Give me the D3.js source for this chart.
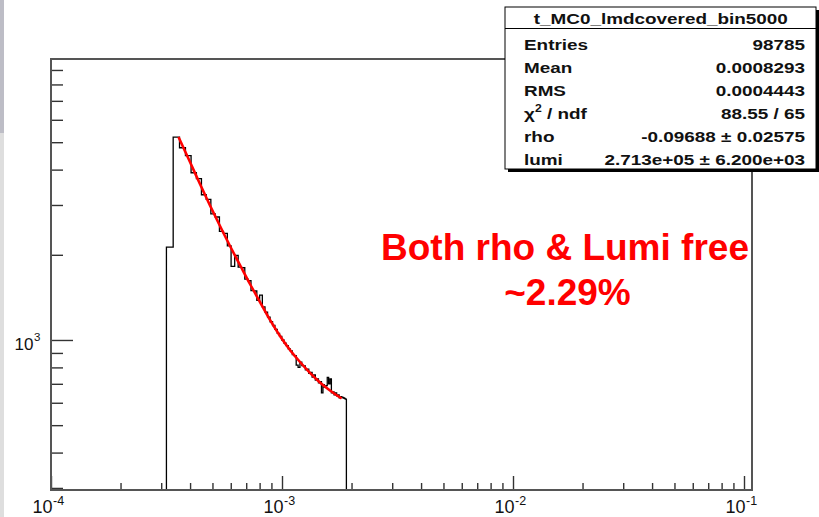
<!DOCTYPE html>
<html><head><meta charset="utf-8">
<script src="https://cdn.jsdelivr.net/npm/d3@7"></script>
<style>
body{margin:0;background:#fff}
svg{display:block}
text{font-family:"Liberation Sans",Arial,Helvetica,sans-serif}
</style>
</head><body>
<svg id="c" width="819" height="517"></svg>
<script>
// ---- data ----
const histStart = 3.16e-4;      // lower edge of first filled bin
const histBinWidth = 2.2e-5;    // bin width
const histCounts = [2130, 5210, 4780, 4480, 3900, 3720, 3260, 3140, 2790, 2720,
  2420, 2380, 2150, 1820, 1990, 1810, 1800, 1640, 1620, 1495,
  1490, 1380, 1440, 1310, 1255, 1205, 1160, 1125, 1090, 1055,
  1030, 1000, 975, 955, 930, 915, 888, 880, 815, 800,
  835, 812, 810, 785, 788, 762, 768, 740, 752, 722,
  728, 705, 712, 650, 695, 680, 690, 738, 700, 728,
  650, 655, 640, 650, 635, 640, 625, 630, 628, 625,
  622, 618];
const fitX = [3.564e-4, 3.997e-4, 4.415e-4, 4.879e-4, 5.390e-4, 5.956e-4, 6.579e-4, 7.268e-4, 8.031e-4,
  8.873e-4, 9.802e-4, 1.083e-3, 1.197e-3, 1.322e-3, 1.460e-3, 1.614e-3, 1.813e-3];
const fitY = [5217, 4256, 3558, 2988, 2528, 2149, 1841, 1577, 1362, 1177, 1033, 922, 836, 765, 708, 663, 621];
const xMajorExps = [-4, -3, -2, -1];
const yMajorVals = [1000];
const yMajorLabels = [["10", "3"]];
const statsTitle = "t_MC0_lmdcovered_bin5000";
const statsLabels = ["Entries", "Mean", "RMS", "chi2", "rho", "lumi"];
const statsValues = ["98785", "0.0008293", "0.0004443", "88.55 / 65", "-0.09688 \u00b1 0.02575", "2.713e+05 \u00b1 6.200e+03"];
const noteLines = ["Both rho & Lumi free", "~2.29%"];

// ---- chart ----
const svg = d3.select("#c");
const W = 819, H = 517;
const L = 51, R = 752, T = 59, B = 490;

svg.append("rect").attr("x", 0).attr("y", 0).attr("width", W).attr("height", H).attr("fill", "#fff");
// slide edge strip
svg.append("rect").attr("x", 0).attr("y", 0).attr("width", 4).attr("height", 133).attr("fill", "#bdbdc6");
svg.append("rect").attr("x", 0).attr("y", 133).attr("width", 4).attr("height", H - 133).attr("fill", "#dedede");

const x = d3.scaleLog().domain([1e-4, 0.1083]).range([L, R]);
const y = d3.scaleLog().domain([295, 9840]).range([B, T]);

const xMinor = [], xMajor = xMajorExps.map(e => Math.pow(10, e));
for (let e = -4; e <= -1; e++) for (let m = 2; m <= 9; m++) {
  const v = m * Math.pow(10, e);
  if (v <= x.domain()[1]) xMinor.push(v);
}
const yMinor = [];
for (let e = 2; e <= 3; e++) for (let m = 2; m <= 9; m++) {
  const v = m * Math.pow(10, e);
  if (v >= y.domain()[0] && v <= y.domain()[1]) yMinor.push(v);
}

const tickColor = "#333";
const gx1 = svg.append("g").attr("transform", `translate(0,${B})`)
  .call(d3.axisBottom(x).tickValues(xMinor).tickSize(-7).tickFormat(""));
const gx2 = svg.append("g").attr("transform", `translate(0,${B})`)
  .call(d3.axisBottom(x).tickValues(xMajor).tickSize(-14).tickFormat(""));
const gy1 = svg.append("g").attr("transform", `translate(${L},0)`)
  .call(d3.axisLeft(y).tickValues(yMinor).tickSize(-12).tickFormat(""));
const gy2 = svg.append("g").attr("transform", `translate(${L},0)`)
  .call(d3.axisLeft(y).tickValues(yMajorVals).tickSize(-22).tickFormat(""));
[gx1, gx2, gy1, gy2].forEach(g => {
  g.select(".domain").remove();
  g.selectAll("line").attr("stroke", tickColor).attr("stroke-width", 1.4);
});

// x labels
xMajor.forEach((v, i) => {
  const px = x(v);
  svg.append("text").attr("x", px + 1.5).attr("y", 512.5).attr("text-anchor", "end")
    .attr("font-size", 18).attr("fill", "#111").text("10");
  svg.append("text").attr("x", px + 2).attr("y", 504.5).attr("text-anchor", "start")
    .attr("font-size", 12.5).attr("fill", "#111").text(String(xMajorExps[i]));
});
// y labels
yMajorVals.forEach((v, i) => {
  const py = y(v);
  svg.append("text").attr("x", 33.5).attr("y", py + 10).attr("text-anchor", "end")
    .attr("font-size", 17).attr("fill", "#111").text(yMajorLabels[i][0]);
  svg.append("text").attr("x", 34).attr("y", py + 1.5).attr("text-anchor", "start")
    .attr("font-size", 11.5).attr("fill", "#111").text(yMajorLabels[i][1]);
});

// histogram outline
const edges = histCounts.map((_, i) => histStart + i * histBinWidth);
edges.push(histStart + histCounts.length * histBinWidth);
const pts = [[x(edges[0]), B]];
histCounts.forEach((c, i) => {
  pts.push([x(edges[i]), y(c)]);
  pts.push([x(edges[i + 1]), y(c)]);
});
pts.push([x(edges[edges.length - 1]), B]);
svg.append("path").attr("d", d3.line()(pts)).attr("fill", "none")
  .attr("stroke", "#000").attr("stroke-width", 1.3);

// fit curve
svg.append("path")
  .attr("d", d3.line().x(d => x(d[0])).y(d => y(d[1])).curve(d3.curveMonotoneX)(fitX.map((v, i) => [v, fitY[i]])))
  .attr("fill", "none").attr("stroke", "#ff0000").attr("stroke-width", 2.6);

// frame
svg.append("rect").attr("x", L).attr("y", T).attr("width", R - L).attr("height", B - T)
  .attr("fill", "none").attr("stroke", "#555").attr("stroke-width", 2);

// stats box
const bx = 505, by = 7, bw = 311, bh = 162;
svg.append("rect").attr("x", bx + 3).attr("y", by + 3).attr("width", bw).attr("height", bh).attr("fill", "#000");
svg.append("rect").attr("x", bx).attr("y", by).attr("width", bw).attr("height", bh)
  .attr("fill", "#fff").attr("stroke", "#000").attr("stroke-width", 1);
svg.append("line").attr("x1", bx).attr("x2", bx + bw).attr("y1", 28.5).attr("y2", 28.5)
  .attr("stroke", "#000").attr("stroke-width", 1);
const sx = 1.22, fs = 15.5;
svg.append("text").attr("transform", `translate(660.8,23.5) scale(${sx},1)`)
  .attr("text-anchor", "middle").attr("font-size", fs).attr("font-weight", "bold").attr("fill", "#111").text(statsTitle);
statsLabels.forEach((lab, i) => {
  const yy = 49.5 + 23.1 * i;
  const t = svg.append("text").attr("transform", `translate(524,${yy}) scale(${sx},1)`)
    .attr("font-size", fs).attr("font-weight", "bold").attr("fill", "#111");
  if (lab === "chi2") {
    t.append("tspan").text("\u03c7");
    t.append("tspan").attr("font-size", 10).attr("dy", -7).text("2");
    t.append("tspan").attr("dy", 7).text(" / ndf");
  } else t.text(lab);
  svg.append("text").attr("transform", `translate(805,${yy}) scale(${sx},1)`)
    .attr("text-anchor", "end").attr("font-size", fs).attr("font-weight", "bold").attr("fill", "#111").text(statsValues[i]);
});

// annotation
svg.append("text").attr("x", 565).attr("y", 260).attr("text-anchor", "middle")
  .attr("font-size", 37).attr("font-weight", "bold").attr("fill", "#ff0000").text(noteLines[0]);
svg.append("text").attr("x", 567.5).attr("y", 305).attr("text-anchor", "middle")
  .attr("font-size", 37).attr("font-weight", "bold").attr("fill", "#ff0000").text(noteLines[1]);
</script>
</body></html>
